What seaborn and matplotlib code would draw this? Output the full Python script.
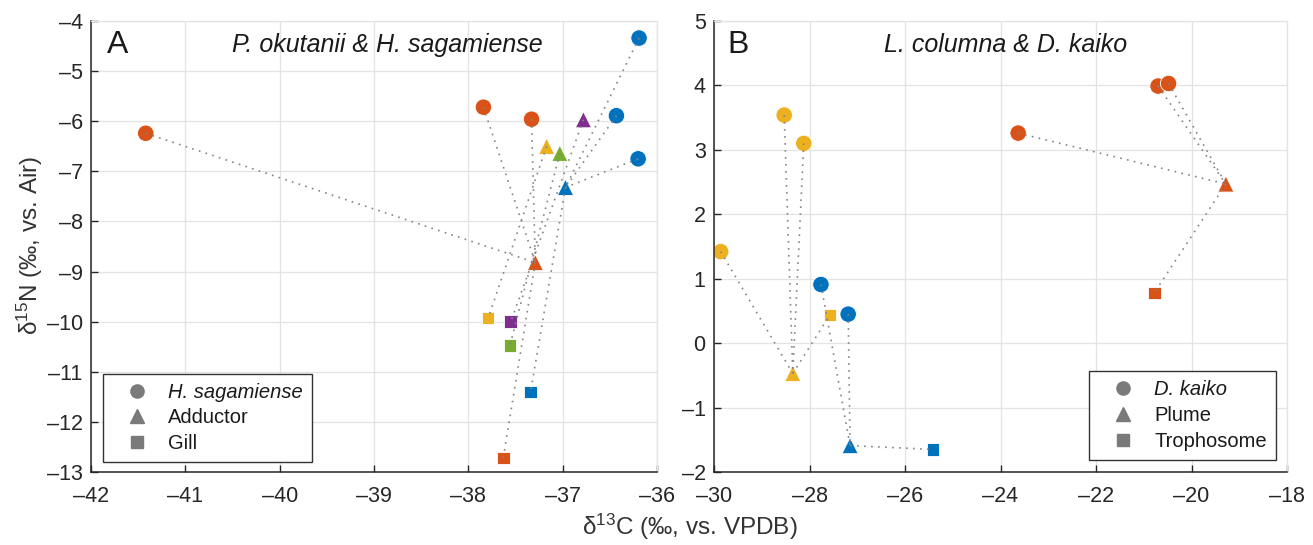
import numpy as np
import pandas as pd
import matplotlib
matplotlib.use('Agg')
from matplotlib import pyplot as plt
from matplotlib.lines import Line2D
import seaborn as sns

# --- data ---
# panel A: P. okutanii & H. sagamiense
a_host_group = ['orange', 'orange', 'orange', 'blue', 'blue', 'blue']
a_host_x = [-41.42, -37.84, -37.33, -36.19, -36.43, -36.20]
a_host_y = [-6.24, -5.72, -5.96, -4.34, -5.89, -6.75]

a_sym_group = ['orange', 'blue', 'yellow', 'green', 'purple']
a_add_x = [-37.29, -36.97, -37.17, -37.03, -36.78]
a_add_y = [-8.82, -7.32, -6.50, -6.64, -5.97]
a_gill_x = [-37.63, -37.34, -37.79, -37.56, -37.55]
a_gill_y = [-12.72, -11.40, -9.93, -10.48, -10.00]

# panel B: L. columna & D. kaiko
b_host_group = ['yellow', 'yellow', 'yellow', 'blue', 'blue', 'orange', 'orange', 'orange']
b_host_x = [-28.53, -28.12, -29.86, -27.76, -27.19, -23.63, -20.70, -20.48]
b_host_y = [3.54, 3.10, 1.42, 0.91, 0.45, 3.26, 3.99, 4.03]

b_sym_group = ['yellow', 'blue', 'orange']
b_plume_x = [-28.35, -27.15, -19.28]
b_plume_y = [-0.47, -1.59, 2.47]
b_troph_x = [-27.57, -25.41, -20.78]
b_troph_y = [0.44, -1.65, 0.78]

COLORS = {'blue': '#0072BD', 'orange': '#D95319', 'yellow': '#EDB120',
          'purple': '#7E2F8E', 'green': '#77AC30'}
MARKERS = {'host': 'o', 'mid': '^', 'end': 's'}
SIZES = {'host': 140, 'mid': 135, 'end': 82}
GRID = '#e3e3e3'
DARK = '#262626'

sns.set_theme(style="whitegrid")
plt.rcParams['font.family'] = ['Liberation Sans', 'DejaVu Sans']
plt.rcParams['mathtext.fontset'] = 'custom'
plt.rcParams['mathtext.rm'] = 'Liberation Sans'
plt.rcParams['mathtext.it'] = 'Liberation Sans:italic'


def make_df(hg, hx, hy, sg, mx, my, ex, ey):
    rows = [(x, y, g, 'host') for g, x, y in zip(hg, hx, hy)]
    rows += [(x, y, g, 'mid') for g, x, y in zip(sg, mx, my)]
    rows += [(x, y, g, 'end') for g, x, y in zip(sg, ex, ey)]
    return pd.DataFrame(rows, columns=['x', 'y', 'group', 'tissue'])


def draw_panel(ax, df, xlim, ylim, xticks, yticks):
    sns.scatterplot(data=df, x='x', y='y', hue='group', style='tissue', size='tissue',
                    palette=COLORS, markers=MARKERS, sizes=SIZES,
                    edgecolor='white', linewidth=0.6, legend=False, ax=ax, zorder=2)
    # dotted links: host -> mid tissue -> end tissue, within each group
    for g, sub in df.groupby('group'):
        mid = sub[sub.tissue == 'mid']
        end = sub[sub.tissue == 'end']
        if mid.empty:
            continue
        mx, my = mid.x.iloc[0], mid.y.iloc[0]
        for _, r in sub[sub.tissue == 'host'].iterrows():
            ax.plot([r.x, mx], [r.y, my], color='#858585', lw=1.2,
                    ls=(0, (1, 3.2)), zorder=3)
        for _, r in end.iterrows():
            ax.plot([mx, r.x], [my, r.y], color='#858585', lw=1.2,
                    ls=(0, (1, 3.2)), zorder=3)
    ax.set_xlim(xlim)
    ax.set_ylim(ylim)
    ax.set_xticks(xticks)
    ax.set_yticks(yticks)
    ax.set_xticklabels([f'{t:g}'.replace('-', '\u2013') for t in xticks])
    ax.set_yticklabels([f'{t:g}'.replace('-', '\u2013') for t in yticks])
    ax.set_xlabel('')
    ax.set_ylabel('')
    ax.grid(True, color=GRID, lw=0.9)
    ax.tick_params(direction='in', length=5, width=1, color=DARK, labelcolor=DARK,
                   labelsize=15.5, left=True, bottom=True)
    ax.tick_params(axis='x', pad=10)
    ax.tick_params(axis='y', pad=6)
    for s in ['left', 'bottom']:
        ax.spines[s].set_color(DARK)
        ax.spines[s].set_linewidth(1.1)
    for s in ['top', 'right']:
        ax.spines[s].set_color(GRID)
        ax.spines[s].set_linewidth(0.9)


def add_legend(ax, labels, loc, anchor):
    handles = [Line2D([], [], ls='', marker='o', ms=9.5, color='#7a7a7a'),
               Line2D([], [], ls='', marker='^', ms=10, color='#7a7a7a'),
               Line2D([], [], ls='', marker='s', ms=8, color='#7a7a7a')]
    leg = ax.legend(handles, labels, loc=loc, bbox_to_anchor=anchor, borderaxespad=0,
                    fontsize=14.5, frameon=True, fancybox=False, framealpha=1,
                    edgecolor='#333333', handlelength=2.5, handletextpad=0.3,
                    labelspacing=0.33, borderpad=0.45)
    leg.get_frame().set_linewidth(1.0)
    leg.get_texts()[0].set_fontstyle('italic')
    for t in leg.get_texts():
        t.set_color('#1a1a1a')


fig = plt.figure(figsize=(13.13, 5.45), dpi=100)
ax_a = fig.add_axes([91 / 1313, 73 / 545, 566 / 1313, 451 / 545])
ax_b = fig.add_axes([714 / 1313, 73 / 545, 573 / 1313, 451 / 545])

df_a = make_df(a_host_group, a_host_x, a_host_y, a_sym_group, a_add_x, a_add_y, a_gill_x, a_gill_y)
df_b = make_df(b_host_group, b_host_x, b_host_y, b_sym_group, b_plume_x, b_plume_y, b_troph_x, b_troph_y)

draw_panel(ax_a, df_a, (-42, -36), (-13, -4), list(range(-42, -35)), list(range(-13, -3)))
draw_panel(ax_b, df_b, (-30, -18), (-2, 5), list(range(-30, -17, 2)), list(range(-2, 6)))

add_legend(ax_a, ['H. sagamiense', 'Adductor', 'Gill'], 'lower left', (0.021, 0.022))
add_legend(ax_b, ['D. kaiko', 'Plume', 'Trophosome'], 'lower right', (0.981, 0.027))

ax_a.text(0.028, 0.947, 'A', transform=ax_a.transAxes, fontsize=23, color='#1a1a1a',
          ha='left', va='center')
ax_a.text(0.523, 0.947, 'P. okutanii & H. sagamiense', transform=ax_a.transAxes,
          fontsize=18, style='italic', color='#1a1a1a', ha='center', va='center')
ax_b.text(0.024, 0.947, 'B', transform=ax_b.transAxes, fontsize=23, color='#1a1a1a',
          ha='left', va='center')
ax_b.text(0.508, 0.947, 'L. columna & D. kaiko', transform=ax_b.transAxes,
          fontsize=18, style='italic', color='#1a1a1a', ha='center', va='center')

fig.text(30 / 1313, 1 - 245 / 545, '\u03b4$^{15}$N (\u2030, vs. Air)', fontsize=17.5,
         color='#333333', rotation=90, ha='center', va='center')
fig.text(690 / 1313, 1 - 527 / 545, '\u03b4$^{13}$C (\u2030, vs. VPDB)', fontsize=17.5,
         color='#333333', ha='center', va='center')

fig.savefig('out.png', dpi=100)
